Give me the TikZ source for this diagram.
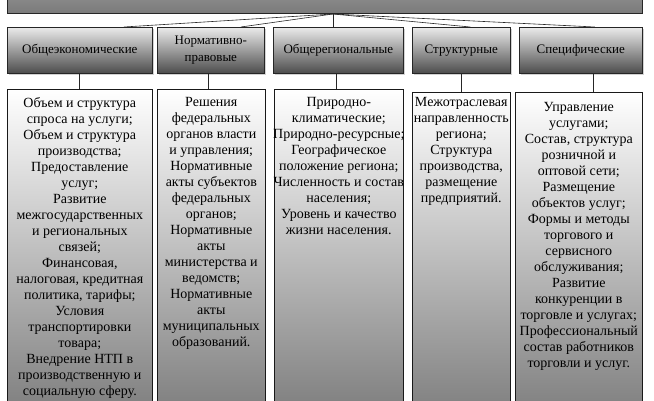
\documentclass[tikz,border=0pt]{standalone}
\usepackage{fontspec}
\setmainfont{Liberation Serif}
\usetikzlibrary{positioning, shadows}

% one column of factors: width, top gap, lines
\newcommand\factorlist[3]{\parbox[t][320pt][t]{#1}{\vspace*{#2}%
  \makebox[#1]{\begin{tabular}[t]{@{}c@{}}#3\end{tabular}}}}

\begin{document}
\begin{tikzpicture}[x=1pt, y=-1pt,
        topbox/.style={draw=black!85, thick, top color=black!38, bottom color=black!52,
          minimum width=635pt, minimum height=40pt, anchor=south west, inner sep=0pt},
        catbox/.style={draw=black!85, semithick, top color=black!8, middle color=black!33,
          bottom color=black!70, minimum height=46pt, anchor=north west, inner sep=1pt,
          align=center, font=\fontsize{13}{17}\selectfont,
          drop shadow={shadow xshift=1.5pt, shadow yshift=-1.5pt, fill=gray!70}},
        lowbox/.style={draw=black!90, semithick, top color=white, bottom color=black!50,
          anchor=north west, inner sep=0pt, font=\fontsize{14}{16}\selectfont},
        conn/.style={-, black!85, semithick},
      ]
        \useasboundingbox (0,0) rectangle (654,400);
        \clip (0,0) rectangle (654,400);
        % top box
        \node[topbox] (top) at (7,14) {};
        \coordinate (hub) at ([xshift=8pt]top.south);
        % groups of factors
        \node[catbox, minimum width=145pt] (cat1) at (7,27) {Общеэкономические};
        \node[catbox, minimum width=107pt] (cat2) at (157,27) {Нормативно-\\правовые};
        \node[catbox, minimum width=130pt] (cat3) at (273,27) {Общерегиональные};
        \node[catbox, minimum width=98pt] (cat4) at (412,27) {Структурные};
        \node[catbox, minimum width=123pt] (cat5) at (519,27) {Специфические};
        % lists of factors
        \node[lowbox] (low1) at (7,89) {\factorlist{145pt}{7pt}{%
          Объем и структура\\ спроса на услуги;\\ Объем и структура\\ производства;\\
          Предоставление\\ услуг;\\ Развитие\\ межгосударственных\\ и региональных\\
          связей;\\ Финансовая,\\ налоговая, кредитная\\ политика, тарифы;\\ Условия\\
          транспортировки\\ товара;\\ Внедрение НТП в\\ производственную и\\
          социальную сферу.}};
        \node[lowbox] (low2) at (157,89) {\factorlist{108pt}{6pt}{%
          Решения\\ федеральных\\ органов власти\\ и управления;\\ Нормативные\\
          акты субъектов\\ федеральных\\ органов;\\ Нормативные\\ акты\\ министерства и\\
          ведомств;\\ Нормативные\\ акты\\ муниципальных\\ образований.}};
        \node[lowbox] (low3) at (274,89) {\factorlist{129pt}{6pt}{%
          Природно-\\ климатические;\\ Природно-ресурсные;\\ Географическое\\
          положение региона;\\ Численность и состав\\ населения;\\ Уровень и качество\\
          жизни населения.}};
        \node[lowbox] (low4) at (412,92) {\factorlist{98pt}{3pt}{%
          Межотраслевая\\ направленность\\ региона;\\ Структура\\ производства,\\
          размещение\\ предприятий.}};
        \node[lowbox] (low5) at (515,92) {\factorlist{127pt}{8pt}{%
          Управление\\ услугами;\\ Состав, структура\\ розничной и\\ оптовой сети;\\
          Размещение\\ объектов услуг;\\ Формы и методы\\ торгового и\\ сервисного\\
          обслуживания;\\ Развитие\\ конкуренции в\\ торговле и услугах;\\
          Профессиональный\\ состав работников\\ торговли и услуг.}};
        % connectors
        \foreach \c/\dx in {cat1/44, cat2/30, cat4/9, cat5/14} {
          \draw[conn] (hub) -- ([xshift=\dx pt]\c.north);
        }
        \draw[conn] (hub) -- (hub |- cat3.north);
        \foreach \i/\dx in {1/-1, 2/-3, 3/-2, 4/0, 5/12} {
          \draw[conn] ([xshift=\dx pt]cat\i.south) -- ([xshift=\dx pt]cat\i.south |- low\i.north);
        }
\end{tikzpicture}
\end{document}
